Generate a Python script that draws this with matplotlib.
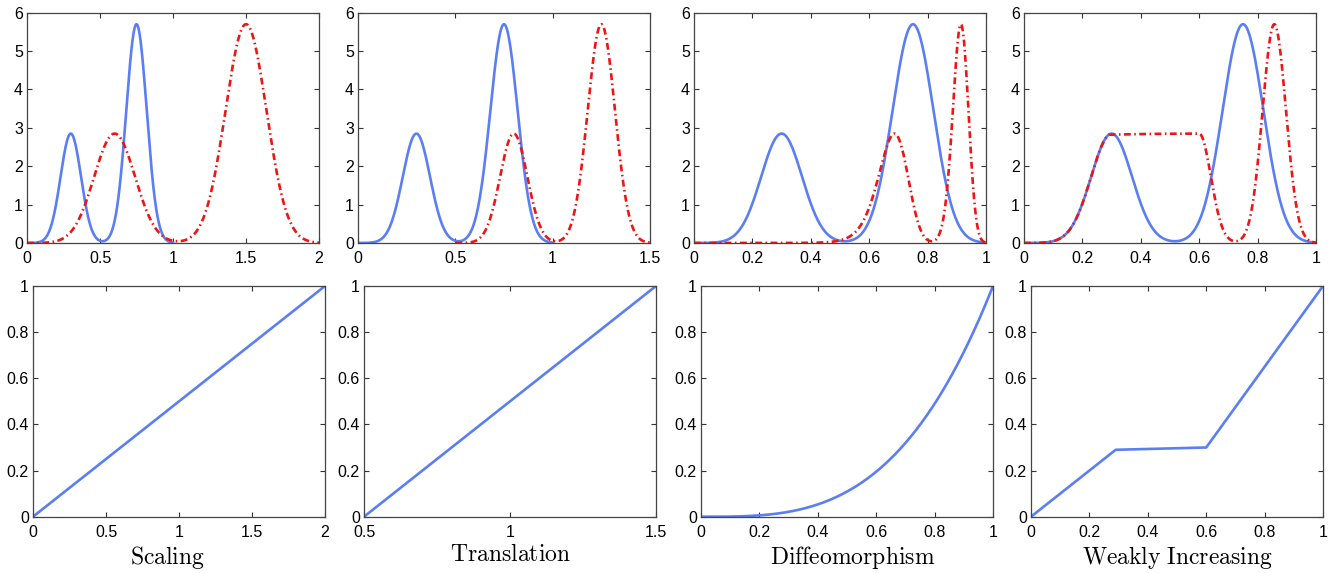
import numpy as np
import matplotlib
matplotlib.use('Agg')
import matplotlib.pyplot as plt

plt.rcParams['font.family'] = ['Liberation Sans', 'DejaVu Sans']
plt.rcParams['mathtext.fontset'] = 'cm'

# Signal: two bumps (centre, height, width)
peak_centers = [0.30, 0.75]
peak_heights = [2.85, 5.70]
peak_width = 0.07

# Warping functions (bottom row)
titles = ['Scaling', 'Translation', 'Diffeomorphism', 'Weakly Increasing']
scale_x = [0.0, 2.0]
scale_y = [0.0, 1.0]
trans_x = [0.5, 1.5]
trans_y = [0.0, 1.0]
diffeo_power = 3.2          # gamma(t) ~ t**3.2
weak_x = [0.0, 0.29, 0.60, 1.0]
weak_y = [0.0, 0.29, 0.30, 1.0]

# x-axis ranges / ticks
xlims = [(0, 2), (0, 1.5), (0, 1), (0, 1)]
xlims_bot = [(0, 2), (0.5, 1.5), (0, 1), (0, 1)]
xticks_top = [[0, 0.5, 1, 1.5, 2], [0, 0.5, 1, 1.5],
              [0, 0.2, 0.4, 0.6, 0.8, 1], [0, 0.2, 0.4, 0.6, 0.8, 1]]
xticks_bot = [[0, 0.5, 1, 1.5, 2], [0.5, 1, 1.5],
              [0, 0.2, 0.4, 0.6, 0.8, 1], [0, 0.2, 0.4, 0.6, 0.8, 1]]
label_xpos = [0.46, 0.5, 0.52, 0.5]

BLUE = '#5b7ff2'
RED = '#ee1515'


def signal(t):
    out = np.zeros_like(t)
    for c, h in zip(peak_centers, peak_heights):
        out += h * np.exp(-(t - c) ** 2 / (2 * peak_width ** 2))
    return out


def fmt(v):
    return ('%g' % v)


def style(ax):
    ax.tick_params(axis='both', which='both', direction='in', top=True, right=True,
                   length=3.5, width=0.8, labelsize=11.5, pad=3, colors='#333333',
                   labelcolor='black')
    ax.tick_params(axis='x', pad=6)
    for s in ax.spines.values():
        s.set_color('#444444')
        s.set_linewidth(0.9)


fig = plt.figure(figsize=(13.35, 5.73), dpi=100)

top_left = [27, 358, 694, 1024]
bot_left = [33, 364, 701, 1031]
W, H = 1335., 573.

t = np.linspace(0, 1, 1001)
f = signal(t)

warp_x = [np.linspace(0, 2, 1001), np.linspace(0.5, 1.5, 1001),
          np.linspace(0, 1, 1001), np.linspace(0, 1, 1001)]
warp_y = [np.interp(warp_x[0], scale_x, scale_y),
          np.interp(warp_x[1], trans_x, trans_y),
          warp_x[2] ** diffeo_power,
          np.interp(warp_x[3], weak_x, weak_y)]

for i in range(4):
    # top row: signal and warped signal
    ax = fig.add_axes([top_left[i] / W, 1 - 243 / H, 292 / W, 230.3 / H])
    ax.plot(t, f, color=BLUE, linewidth=1.9)
    ax.plot(warp_x[i], signal(warp_y[i]), color=RED, linewidth=1.9,
            dashes=(2.6, 1.3, 0.6, 1.3))
    ax.set_xlim(*xlims[i])
    ax.set_ylim(0, 6)
    ax.set_xticks(xticks_top[i])
    ax.set_xticklabels([fmt(v) for v in xticks_top[i]])
    ax.set_yticks(range(7))
    style(ax)

    # bottom row: warping function
    ax = fig.add_axes([bot_left[i] / W, 1 - 516.7 / H, 292 / W, 230.7 / H])
    if i == 2:
        ax.plot(warp_x[i], warp_y[i], color=BLUE, linewidth=1.9)
    else:
        xs = [scale_x, trans_x, None, weak_x][i]
        ys = [scale_y, trans_y, None, weak_y][i]
        ax.plot(xs, ys, color=BLUE, linewidth=1.9)
    ax.set_xlim(*xlims_bot[i])
    ax.set_ylim(0, 1)
    ax.set_xticks(xticks_bot[i])
    ax.set_xticklabels([fmt(v) for v in xticks_bot[i]])
    ax.set_yticks([0, 0.2, 0.4, 0.6, 0.8, 1])
    ax.set_yticklabels([fmt(v) for v in [0, 0.2, 0.4, 0.6, 0.8, 1]])
    style(ax)
    ax.set_xlabel(r'$\mathrm{%s}$' % titles[i].replace(' ', r'\ '), fontsize=17)
    ax.xaxis.set_label_coords(label_xpos[i], -0.12)

fig.savefig('out.png', dpi=100)
